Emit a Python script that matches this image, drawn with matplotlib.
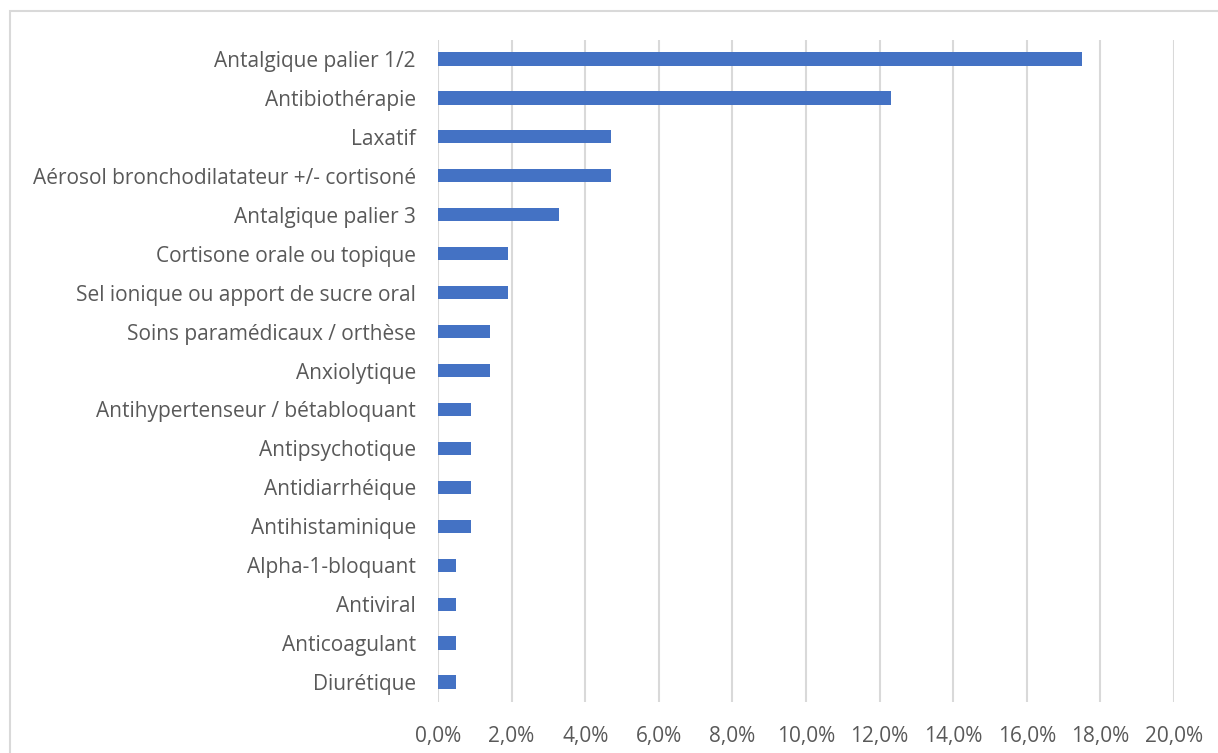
import matplotlib
matplotlib.use("Agg")
import matplotlib.pyplot as plt
from matplotlib.ticker import FuncFormatter, MultipleLocator
from matplotlib.patches import Rectangle

categories = [
    "Antalgique palier 1/2",
    "Antibiothérapie",
    "Laxatif",
    "Aérosol bronchodilatateur +/- cortisoné",
    "Antalgique palier 3",
    "Cortisone orale ou topique",
    "Sel ionique ou apport de sucre oral",
    "Soins paramédicaux / orthèse",
    "Anxiolytique",
    "Antihypertenseur / bétabloquant",
    "Antipsychotique",
    "Antidiarrhéique",
    "Antihistaminique",
    "Alpha-1-bloquant",
    "Antiviral",
    "Anticoagulant",
    "Diurétique",
]
values = [17.5, 12.3, 4.7, 4.7, 3.3, 1.9, 1.9, 1.4, 1.4, 0.9, 0.9, 0.9, 0.9, 0.5, 0.5, 0.5, 0.5]

plt.rcParams['font.family'] = ['Open Sans', 'DejaVu Sans']

W, H = 1218, 753
fig = plt.figure(figsize=(W / 100, H / 100), dpi=100)
ax = fig.add_axes([438 / W, 1 - 701.5 / H, (1174 - 438) / W, (701.5 - 39.5) / H])

n = len(categories)
pos = list(range(n))
ax.barh(pos, values, height=0.34, color="#4472C4", zorder=3)
ax.set_yticks(pos)
ax.set_yticklabels(categories)
ax.set_ylim(n - 0.5, -0.5)
ax.set_xlim(0, 20)
ax.xaxis.set_major_locator(MultipleLocator(2))
ax.xaxis.set_major_formatter(FuncFormatter(lambda v, p: f"{v:.1f}%".replace(".", ",")))
ax.grid(axis="x", color="#D9D9D9", linewidth=1.5, zorder=0)
for s in ax.spines.values():
    s.set_visible(False)
ax.tick_params(axis="both", length=0, labelsize=15, labelcolor="#595959")
ax.tick_params(axis="y", pad=16)
ax.tick_params(axis="x", pad=17.5)

fig.patches.append(Rectangle((10 / W, -0.01), 1.2, 1 - 11 / H + 0.01, transform=fig.transFigure,
                             fill=False, edgecolor="#D9D9D9", linewidth=1.5))

fig.savefig("out.png", dpi=100)
